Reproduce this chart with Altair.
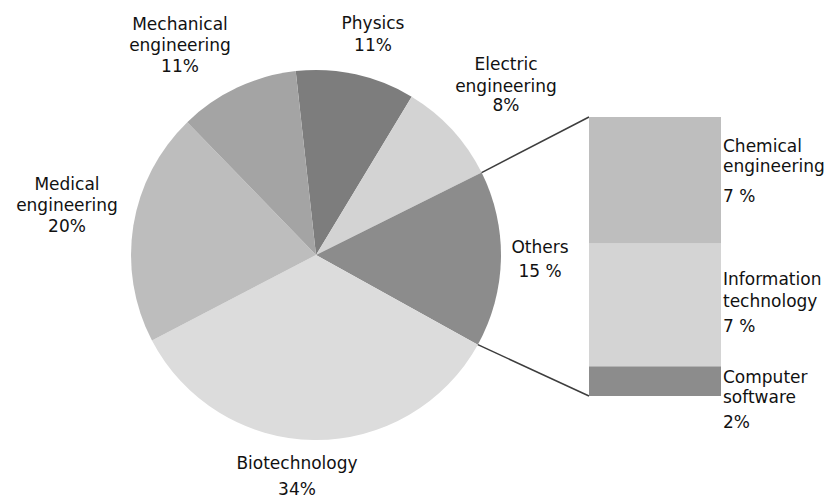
import math
import altair as alt
import pandas as pd

# ---------------- data ----------------
pie_categories = ["Physics", "Electric engineering", "Others", "Biotechnology",
                  "Medical engineering", "Mechanical engineering"]
pie_values = [10.4, 9.0, 15.4, 34.3, 20.4, 10.5]
pie_pct_labels = ["11%", "8%", "15 %", "34%", "20%", "11%"]

bar_categories = ["Computer software", "Information technology", "Chemical engineering"]  # bottom -> top
bar_values = [1.6, 6.6, 6.8]
bar_pct_labels = ["2%", "7 %", "7 %"]

# ---------------- style / layout ----------------
all_categories = pie_categories + bar_categories
all_colors = ["#7d7d7d", "#d3d3d3", "#8c8c8c", "#dcdcdc", "#bdbdbd", "#a4a4a4",
              "#8c8c8c", "#d4d4d4", "#bebebe"]
OFF = 8  # page margin
W, H = 817, 493
CX, CY, R = 316 - OFF, 255 - OFF, 185
START = math.radians(-6.3)
BAR_X0, BAR_X1 = 589 - OFF, 721 - OFF
BAR_TOP, BAR_BOTTOM = 117 - OFF, 396 - OFF
FONT = "DejaVu Sans"
FS = 17
TXT = "#111111"

# label anchors (page coords): x, y of each line, align
LABEL_LAYOUT = {
    "Mechanical engineering": (180, [25, 46, 67], "center"),
    "Physics": (373, [24, 46], "center"),
    "Electric engineering": (506, [65, 87, 106], "center"),
    "Others": (540, [248, 272], "center"),
    "Biotechnology": (297, [464, 490], "center"),
    "Medical engineering": (67, [185, 206, 227], "center"),
    "Chemical engineering": (723, [147, 167, 197], "left"),
    "Information technology": (723, [280, 302, 327], "left"),
    "Computer software": (723, [378, 398, 423], "left"),
}

color_scale = alt.Scale(domain=all_categories, range=all_colors)

pie_df = pd.DataFrame({"category": pie_categories, "value": pie_values,
                       "order": list(range(len(pie_categories)))})
bar_df = pd.DataFrame({"category": bar_categories, "value": bar_values,
                       "order": list(range(len(bar_categories)))})

pie = alt.Chart(pie_df).mark_arc(outerRadius=R, stroke=None).encode(
    theta=alt.Theta("value:Q", stack=True,
                    scale=alt.Scale(range=[START, START + 2 * math.pi])),
    order=alt.Order("order:Q"),
    color=alt.Color("category:N", scale=color_scale, legend=None),
    x=alt.value(CX), y=alt.value(CY),
)

bar_total = sum(bar_values)
bar = alt.Chart(bar_df).transform_window(
    cum="sum(value)", sort=[alt.SortField("order")]
).transform_calculate(
    start="datum.cum - datum.value"
).mark_rect(stroke=None).encode(
    x=alt.value(BAR_X0), x2=alt.value(BAR_X1),
    y=alt.Y("cum:Q", axis=None,
            scale=alt.Scale(domain=[0, bar_total], range=[BAR_BOTTOM, BAR_TOP], nice=False, zero=True)),
    y2="start:Q",
    color=alt.Color("category:N", scale=color_scale, legend=None),
)

# connector lines from the edges of the "Others" slice to the bar corners
total = sum(pie_values)
i_oth = pie_categories.index("Others")
a0 = START + 2 * math.pi * sum(pie_values[:i_oth]) / total
a1 = a0 + 2 * math.pi * pie_values[i_oth] / total
p0 = (CX + R * math.sin(a0), CY - R * math.cos(a0))
p1 = (CX + R * math.sin(a1), CY - R * math.cos(a1))
conn_df = pd.DataFrame({"x": [p0[0], p1[0]], "y": [p0[1], p1[1]],
                        "x2": [BAR_X0, BAR_X0], "y2": [BAR_TOP, BAR_BOTTOM]})
connectors = alt.Chart(conn_df).mark_rule(color="#3d3d3d", strokeWidth=1.5).encode(
    x=alt.X("x:Q", scale=None, axis=None), y=alt.Y("y:Q", scale=None, axis=None),
    x2="x2:Q", y2="y2:Q",
)

# labels
rows = []
pct_map = dict(zip(pie_categories + bar_categories, pie_pct_labels + bar_pct_labels))
for cat, (lx, ys, align) in LABEL_LAYOUT.items():
    lines = cat.split(" ") + [pct_map[cat]]
    for line, ly in zip(lines, ys):
        rows.append({"text": line, "x": lx - OFF, "y": ly - OFF, "align": align})
lab_df = pd.DataFrame(rows)

def text_layer(align):
    return alt.Chart(lab_df[lab_df["align"] == align]).mark_text(
        align=align, baseline="middle", font=FONT, fontSize=FS, color=TXT
    ).encode(x=alt.X("x:Q", scale=None, axis=None),
             y=alt.Y("y:Q", scale=None, axis=None), text="text:N")

chart = alt.layer(pie, connectors, bar, text_layer("center"), text_layer("left")).resolve_scale(
    x="independent", y="independent"
).properties(
    width=W, height=H, padding=0, background="white",
    autosize=alt.AutoSizeParams(type="none")
).configure_view(stroke=None)

chart.save("out.html", embed_options={"renderer": "svg", "actions": False})
